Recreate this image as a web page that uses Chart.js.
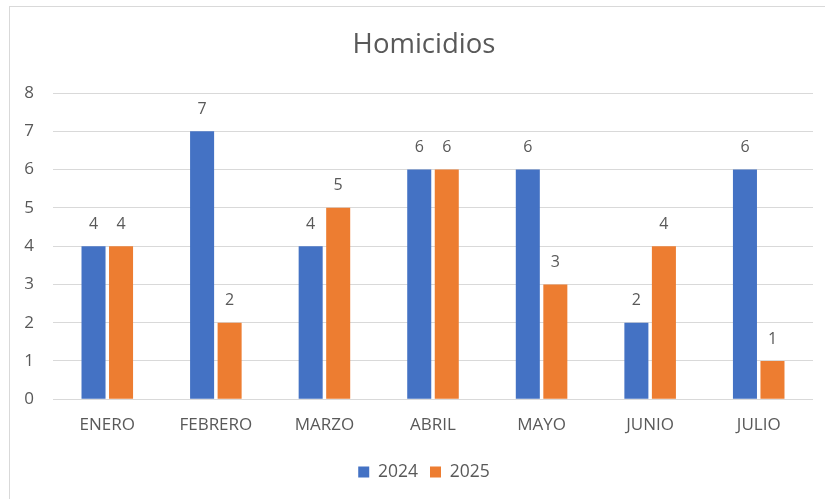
<!DOCTYPE html>
<html>
<head>
<meta charset="utf-8">
<script src="https://cdn.jsdelivr.net/npm/chart.js@4.4.1/dist/chart.umd.min.js"></script>
<style>
html,body{margin:0;padding:0;background:#fff;overflow:hidden;}
#wrap{position:relative;width:825px;height:499px;overflow:hidden;}
#frame{position:absolute;left:9px;top:6px;width:900px;height:600px;border:1px solid #d9d9d9;box-sizing:border-box;}
#c{position:absolute;left:0;top:0;}
</style>
</head>
<body>
<div id="wrap"><div id="frame"></div><canvas id="c" width="850" height="499"></canvas></div>
<script>
const categories = ["ENERO","FEBRERO","MARZO","ABRIL","MAYO","JUNIO","JULIO"];
const series2024 = [4,7,4,6,6,2,6];
const series2025 = [4,2,5,6,3,4,1];
const yTicks = [0,1,2,3,4,5,6,7,8];

const FONT = "'Open Sans', sans-serif";
const TXT = '#595959';

const dataLabels = {
  id: 'dataLabels',
  afterDatasetsDraw(chart) {
    const ctx = chart.ctx;
    ctx.save();
    ctx.font = '16px ' + FONT;
    ctx.fillStyle = TXT;
    ctx.textAlign = 'center';
    ctx.textBaseline = 'middle';
    chart.data.datasets.forEach((ds, i) => {
      chart.getDatasetMeta(i).data.forEach((el, j) => {
        ctx.fillText(String(ds.data[j]), el.x, el.y - 22);
      });
    });
    ctx.restore();
  }
};

new Chart(document.getElementById('c'), {
  type: 'bar',
  data: {
    labels: categories,
    datasets: [
      {label: '2024', data: series2024, backgroundColor: '#4472C4'},
      {label: '2025', data: series2025, backgroundColor: '#ED7D31'}
    ]
  },
  plugins: [dataLabels],
  options: {
    responsive: false,
    animation: false,
    devicePixelRatio: 1,
    layout: {padding: {left: 0, right: 2, top: 0, bottom: 8.25}},
    categoryPercentage: 0.507,
    barPercentage: 0.873,
    plugins: {
      title: {display: true, text: 'Homicidios', color: TXT,
        font: {family: FONT, size: 27.5, weight: 'normal'}, padding: {top: 29, bottom: 31}},
      legend: {position: 'bottom',
        labels: {color: TXT, font: {family: FONT, size: 17.5}, boxWidth: 11, boxHeight: 11, padding: 12}},
      tooltip: {enabled: false}
    },
    scales: {
      x: {
        grid: {display: false, drawTicks: false},
        border: {display: false},
        ticks: {color: TXT, font: {family: FONT, size: 17}, padding: 16, maxRotation: 0},
        afterFit(s) { s.height = 52; }
      },
      y: {
        min: 0, max: 8,
        afterBuildTicks(s) { s.ticks = yTicks.map(v => ({value: v})); },
        grid: {color: '#d9d9d9', lineWidth: 1, drawTicks: false},
        border: {display: false},
        ticks: {color: TXT, font: {family: FONT, size: 17}, padding: 19},
        afterFit(s) { s.width = 53; }
      },
      yRight: {
        position: 'right',
        min: 0, max: 8,
        grid: {display: false, drawTicks: false},
        border: {display: false},
        ticks: {display: false},
        afterFit(s) { s.width = 35; }
      }
    }
  }
});
</script>
</body>
</html>
